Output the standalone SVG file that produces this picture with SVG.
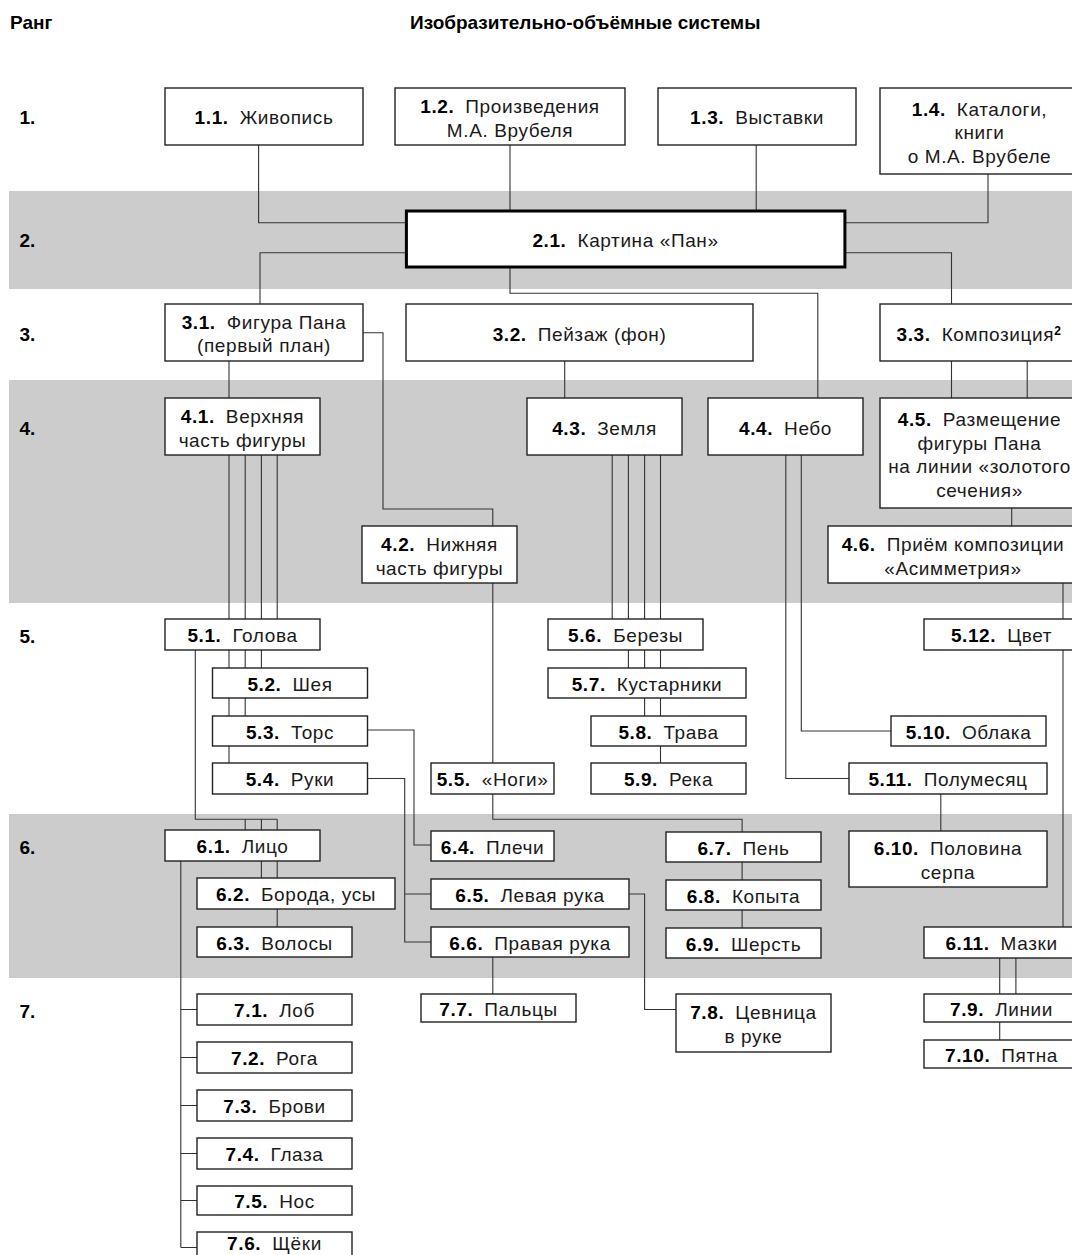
<svg xmlns="http://www.w3.org/2000/svg" width="1072" height="1255" viewBox="0 0 1072 1255">
<style>
.band{fill:#cccccc}
.box rect{fill:#fff;stroke:#222;stroke-width:1.4}
.main rect{stroke:#000;stroke-width:3}
text{font-family:"Liberation Sans",Arial,sans-serif;font-size:19px;fill:#1a1a1a;text-anchor:middle;letter-spacing:0.6px}
.n{font-weight:bold;fill:#000}
.h{font-weight:bold;fill:#000;text-anchor:start;letter-spacing:0}
.conn path{fill:none;stroke:#333;stroke-width:1.1}
</style>
<rect width="1072" height="1255" fill="#fff"/>
<rect class="band" x="9" y="191" width="1063" height="98"/>
<rect class="band" x="9" y="380" width="1063" height="223"/>
<rect class="band" x="9" y="814" width="1063" height="164"/>
<g id="headers">
<text class="h" x="10" y="28.5">Ранг</text>
<text class="h" x="410" y="28.5">Изобразительно-объёмные системы</text>
<text class="h" x="19.5" y="124">1.</text>
<text class="h" x="19.5" y="247">2.</text>
<text class="h" x="19.5" y="341">3.</text>
<text class="h" x="19.5" y="435">4.</text>
<text class="h" x="19.5" y="643">5.</text>
<text class="h" x="19.5" y="854">6.</text>
<text class="h" x="19.5" y="1018">7.</text>
</g>
<g id="connectors" class="conn">
<path d="M258.6,145V222.7H406.4"/>
<path d="M510,145V211"/>
<path d="M756.2,145V211"/>
<path d="M988,174V222.7H845"/>
<path d="M406.4,252.7H260V304"/>
<path d="M510,267V293.3H817.8V398"/>
<path d="M845,252.7H951.5V304"/>
<path d="M229,361V398"/>
<path d="M363,332.7H383V509H492.8V526"/>
<path d="M564.7,361V398"/>
<path d="M951.5,361V398M1027.2,361V398"/>
<path d="M1011.7,508V526"/>
<path d="M229,455V619M245.2,455V619M261.4,455V619M277.2,455V619"/>
<path d="M492.8,583V763"/>
<path d="M612.2,455V619M628.4,455V619M644.6,455V619M660.5,455V619"/>
<path d="M801.3,455V731H891"/>
<path d="M785.8,455V778.5H849"/>
<path d="M1063,583V619"/>
<path d="M229,650V668M245.2,650V668M261.4,650V668"/>
<path d="M229,698V716M245.2,698V716"/>
<path d="M229,746V763"/>
<path d="M195.3,650V819.3H277.2M245.2,819.3V830M261.4,819.3V830M277.2,819.3V830"/>
<path d="M367,730H414V845H431"/>
<path d="M367,778.5H404.7V942H431M404.7,894H431"/>
<path d="M492.8,794V819.3H742.1V832"/>
<path d="M628.4,650V668M644.6,650V668M660.5,650V668"/>
<path d="M644.6,698V716M660.5,698V716"/>
<path d="M660.5,746V763"/>
<path d="M940.8,794V831"/>
<path d="M1063,650V927"/>
<path d="M261.4,861V878M277.2,861V878"/>
<path d="M277.2,909V927"/>
<path d="M180.8,861V1247.5M180.8,1009.5H197M180.8,1057.5H197M180.8,1105.5H197M180.8,1153.5H197M180.8,1200.5H197M180.8,1247.5H197"/>
<path d="M492.8,957V994"/>
<path d="M629,894H644.6V1009.5H676"/>
<path d="M742.1,862V880M742.1,910V928"/>
<path d="M999.7,958V994M1015.9,958V994"/>
<path d="M999.7,1022V1040"/>
</g>
<g id="n1-1" class="box"><rect x="165" y="88" width="198" height="57"/><text x="264" y="124"><tspan class="n">1.1.</tspan><tspan dx="11">Живопись</tspan></text></g>
<g id="n1-2" class="box"><rect x="395" y="88" width="230" height="57"/><text x="510" y="113"><tspan class="n">1.2.</tspan><tspan dx="11">Произведения</tspan></text><text x="510" y="136.5">М.А. Врубеля</text></g>
<g id="n1-3" class="box"><rect x="658" y="88" width="198" height="57"/><text x="757" y="124"><tspan class="n">1.3.</tspan><tspan dx="11">Выставки</tspan></text></g>
<g id="n1-4" class="box"><rect x="880" y="88" width="198" height="86"/><text x="979.5" y="115.5"><tspan class="n">1.4.</tspan><tspan dx="11">Каталоги,</tspan></text><text x="979.5" y="139">книги</text><text x="979.5" y="162.5">о М.А. Врубеле</text></g>
<g id="n2-1" class="box main"><rect x="406.4" y="211" width="438.5" height="56"/><text x="625.5" y="247"><tspan class="n">2.1.</tspan><tspan dx="11">Картина «Пан»</tspan></text></g>
<g id="n3-1" class="box"><rect x="165" y="304" width="198" height="57"/><text x="264" y="328.5"><tspan class="n">3.1.</tspan><tspan dx="11">Фигура Пана</tspan></text><text x="264" y="352">(первый план)</text></g>
<g id="n3-2" class="box"><rect x="406" y="304" width="347" height="57"/><text x="579.5" y="340.5"><tspan class="n">3.2.</tspan><tspan dx="11">Пейзаж (фон)</tspan></text></g>
<g id="n3-3" class="box"><rect x="880" y="304" width="198" height="57"/><text x="979" y="340.5"><tspan class="n">3.3.</tspan><tspan dx="11">Композиция</tspan><tspan class="n" font-size="12" dy="-6">2</tspan></text></g>
<g id="n4-1" class="box"><rect x="165" y="398" width="155" height="57"/><text x="242.5" y="423"><tspan class="n">4.1.</tspan><tspan dx="11">Верхняя</tspan></text><text x="242.5" y="446.5">часть фигуры</text></g>
<g id="n4-2" class="box"><rect x="362" y="526" width="155" height="57"/><text x="439.5" y="551"><tspan class="n">4.2.</tspan><tspan dx="11">Нижняя</tspan></text><text x="439.5" y="574.5">часть фигуры</text></g>
<g id="n4-3" class="box"><rect x="527" y="398" width="155" height="57"/><text x="604.5" y="434.5"><tspan class="n">4.3.</tspan><tspan dx="11">Земля</tspan></text></g>
<g id="n4-4" class="box"><rect x="708" y="398" width="155" height="57"/><text x="785.5" y="434.5"><tspan class="n">4.4.</tspan><tspan dx="11">Небо</tspan></text></g>
<g id="n4-5" class="box"><rect x="880" y="398" width="198" height="110"/><text x="979.5" y="426"><tspan class="n">4.5.</tspan><tspan dx="11">Размещение</tspan></text><text x="979.5" y="449.5">фигуры Пана</text><text x="979.5" y="473">на линии «золотого</text><text x="979.5" y="496.5">сечения»</text></g>
<g id="n4-6" class="box"><rect x="828" y="526" width="250" height="57"/><text x="953" y="551"><tspan class="n">4.6.</tspan><tspan dx="11">Приём композиции</tspan></text><text x="953" y="574.5">«Асимметрия»</text></g>
<g id="n5-1" class="box"><rect x="165" y="619" width="155" height="31"/><text x="242.5" y="642"><tspan class="n">5.1.</tspan><tspan dx="11">Голова</tspan></text></g>
<g id="n5-2" class="box"><rect x="212.5" y="668" width="155" height="30"/><text x="290" y="690.5"><tspan class="n">5.2.</tspan><tspan dx="11">Шея</tspan></text></g>
<g id="n5-3" class="box"><rect x="212.5" y="716" width="155" height="30"/><text x="290" y="738.5"><tspan class="n">5.3.</tspan><tspan dx="11">Торс</tspan></text></g>
<g id="n5-4" class="box"><rect x="212.5" y="763" width="155" height="31"/><text x="290" y="786"><tspan class="n">5.4.</tspan><tspan dx="11">Руки</tspan></text></g>
<g id="n5-5" class="box"><rect x="431" y="763" width="123" height="31"/><text x="492.5" y="786"><tspan class="n">5.5.</tspan><tspan dx="11">«Ноги»</tspan></text></g>
<g id="n5-6" class="box"><rect x="548" y="619" width="155" height="31"/><text x="625.5" y="642"><tspan class="n">5.6.</tspan><tspan dx="11">Березы</tspan></text></g>
<g id="n5-7" class="box"><rect x="548" y="668" width="198" height="30"/><text x="647" y="690.5"><tspan class="n">5.7.</tspan><tspan dx="11">Кустарники</tspan></text></g>
<g id="n5-8" class="box"><rect x="591" y="716" width="155" height="30"/><text x="668.5" y="738.5"><tspan class="n">5.8.</tspan><tspan dx="11">Трава</tspan></text></g>
<g id="n5-9" class="box"><rect x="591" y="763" width="155" height="31"/><text x="668.5" y="786"><tspan class="n">5.9.</tspan><tspan dx="11">Река</tspan></text></g>
<g id="n5-10" class="box"><rect x="891" y="716" width="155" height="30"/><text x="968.5" y="738.5"><tspan class="n">5.10.</tspan><tspan dx="11">Облака</tspan></text></g>
<g id="n5-11" class="box"><rect x="849" y="763" width="198" height="31"/><text x="948" y="786"><tspan class="n">5.11.</tspan><tspan dx="11">Полумесяц</tspan></text></g>
<g id="n5-12" class="box"><rect x="924" y="619" width="155" height="31"/><text x="1001.5" y="642"><tspan class="n">5.12.</tspan><tspan dx="11">Цвет</tspan></text></g>
<g id="n6-1" class="box"><rect x="165" y="830" width="155" height="31"/><text x="242.5" y="853"><tspan class="n">6.1.</tspan><tspan dx="11">Лицо</tspan></text></g>
<g id="n6-2" class="box"><rect x="197" y="878" width="198" height="31"/><text x="296" y="901"><tspan class="n">6.2.</tspan><tspan dx="11">Борода, усы</tspan></text></g>
<g id="n6-3" class="box"><rect x="197" y="927" width="155" height="30"/><text x="274.5" y="949.5"><tspan class="n">6.3.</tspan><tspan dx="11">Волосы</tspan></text></g>
<g id="n6-4" class="box"><rect x="431" y="831" width="123" height="30"/><text x="492.5" y="853.5"><tspan class="n">6.4.</tspan><tspan dx="11">Плечи</tspan></text></g>
<g id="n6-5" class="box"><rect x="431" y="879" width="198" height="30"/><text x="530" y="901.5"><tspan class="n">6.5.</tspan><tspan dx="11">Левая рука</tspan></text></g>
<g id="n6-6" class="box"><rect x="431" y="927" width="198" height="30"/><text x="530" y="949.5"><tspan class="n">6.6.</tspan><tspan dx="11">Правая рука</tspan></text></g>
<g id="n6-7" class="box"><rect x="666" y="832" width="155" height="30"/><text x="743.5" y="854.5"><tspan class="n">6.7.</tspan><tspan dx="11">Пень</tspan></text></g>
<g id="n6-8" class="box"><rect x="666" y="880" width="155" height="30"/><text x="743.5" y="902.5"><tspan class="n">6.8.</tspan><tspan dx="11">Копыта</tspan></text></g>
<g id="n6-9" class="box"><rect x="666" y="928" width="155" height="30"/><text x="743.5" y="950.5"><tspan class="n">6.9.</tspan><tspan dx="11">Шерсть</tspan></text></g>
<g id="n6-10" class="box"><rect x="849" y="831" width="198" height="56"/><text x="948" y="855"><tspan class="n">6.10.</tspan><tspan dx="11">Половина</tspan></text><text x="948" y="878.5">серпа</text></g>
<g id="n6-11" class="box"><rect x="924" y="927" width="155" height="31"/><text x="1001.5" y="950"><tspan class="n">6.11.</tspan><tspan dx="11">Мазки</tspan></text></g>
<g id="n7-1" class="box"><rect x="197" y="994" width="155" height="31"/><text x="274.5" y="1017"><tspan class="n">7.1.</tspan><tspan dx="11">Лоб</tspan></text></g>
<g id="n7-2" class="box"><rect x="197" y="1042" width="155" height="31"/><text x="274.5" y="1065"><tspan class="n">7.2.</tspan><tspan dx="11">Рога</tspan></text></g>
<g id="n7-3" class="box"><rect x="197" y="1090" width="155" height="31"/><text x="274.5" y="1113"><tspan class="n">7.3.</tspan><tspan dx="11">Брови</tspan></text></g>
<g id="n7-4" class="box"><rect x="197" y="1138" width="155" height="31"/><text x="274.5" y="1161"><tspan class="n">7.4.</tspan><tspan dx="11">Глаза</tspan></text></g>
<g id="n7-5" class="box"><rect x="197" y="1186" width="155" height="29"/><text x="274.5" y="1208"><tspan class="n">7.5.</tspan><tspan dx="11">Нос</tspan></text></g>
<g id="n7-6" class="box"><rect x="197" y="1232" width="155" height="31"/><text x="274.5" y="1250"><tspan class="n">7.6.</tspan><tspan dx="11">Щёки</tspan></text></g>
<g id="n7-7" class="box"><rect x="421" y="994" width="155" height="28"/><text x="498.5" y="1016"><tspan class="n">7.7.</tspan><tspan dx="11">Пальцы</tspan></text></g>
<g id="n7-8" class="box"><rect x="676" y="994" width="155" height="58"/><text x="753.5" y="1019"><tspan class="n">7.8.</tspan><tspan dx="11">Цевница</tspan></text><text x="753.5" y="1042.5">в руке</text></g>
<g id="n7-9" class="box"><rect x="924" y="994" width="155" height="28"/><text x="1001.5" y="1016"><tspan class="n">7.9.</tspan><tspan dx="11">Линии</tspan></text></g>
<g id="n7-10" class="box"><rect x="924" y="1040" width="155" height="28"/><text x="1001.5" y="1061.5"><tspan class="n">7.10.</tspan><tspan dx="11">Пятна</tspan></text></g>
</svg>
